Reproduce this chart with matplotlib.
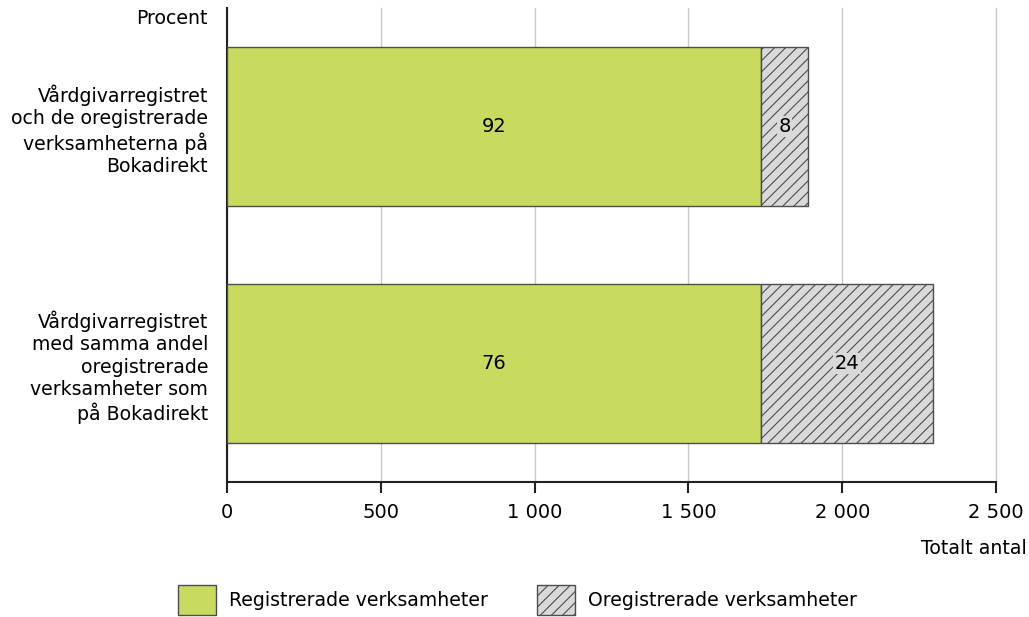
import matplotlib
matplotlib.use("Agg")
import matplotlib.pyplot as plt
from matplotlib.patches import Patch
from matplotlib.ticker import FuncFormatter

plt.rcParams['font.family'] = ['DejaVu Sans']
plt.rcParams['hatch.color'] = '#6a6a6a'
plt.rcParams['hatch.linewidth'] = 0.8

# antal verksamheter per register
categories = [
    "Vårdgivarregistret\noch de oregistrerade\nverksamheterna på\nBokadirekt",
    "Vårdgivarregistret\nmed samma andel\noregistrerade\nverksamheter som\npå Bokadirekt",
]
registrerade = [1736, 1736]
oregistrerade = [153, 559]
pct_reg = [92, 76]
pct_oreg = [8, 24]

green = "#C9DA5E"
grey = "#D9D9D9"
edge = "#4d4d4d"

fig = plt.figure(figsize=(10.29, 6.17), dpi=100)
ax = fig.add_axes([227 / 1029, 1 - 482 / 617, 769 / 1029, 474 / 617])

y = list(range(len(categories)))
ax.barh(y, registrerade, height=0.67, color=green, edgecolor=edge, linewidth=1, zorder=3)
ax.barh(y, oregistrerade, left=registrerade, height=0.67, color=grey,
        edgecolor=edge, linewidth=1, hatch="///", zorder=3)

for i in y:
    ax.text(registrerade[i] / 2, i, str(pct_reg[i]), ha="center", va="center",
            fontsize=14, zorder=4)
    ax.text(registrerade[i] + oregistrerade[i] / 2, i, str(pct_oreg[i]), ha="center",
            va="center", fontsize=14, zorder=4,
            bbox=dict(facecolor=grey, edgecolor="none", pad=1))

ax.set_xlim(0, 2500)
ax.set_ylim(1.5, -0.5)
ax.set_xticks([0, 500, 1000, 1500, 2000, 2500])
ax.xaxis.set_major_formatter(FuncFormatter(lambda v, p: f"{int(v):,}".replace(",", " ")))
ax.set_yticks(y)
ax.set_yticklabels(categories, fontsize=13.6, linespacing=1.22, ha="right")
ax.tick_params(axis="y", length=0, pad=13.5)
ax.tick_params(axis="x", length=8, width=1.5, labelsize=14, pad=7, color="#222222")

ax.grid(axis="x", color="#c8c8c8", linewidth=1, zorder=0)
for gl in ax.get_xgridlines():
    gl.set_clip_on(False)
for s in ["top", "right"]:
    ax.spines[s].set_visible(False)
ax.spines["left"].set_linewidth(1.5)
ax.spines["bottom"].set_linewidth(1.5)
ax.spines["left"].set_color("#222222")
ax.spines["bottom"].set_color("#222222")

fig.text(208 / 1029, 1 - 19 / 617, "Procent", ha="right", va="center", fontsize=13.6)
fig.text(1027 / 1029, 1 - 549 / 617, "Totalt antal", ha="right", va="center", fontsize=13.6)

handles = [
    Patch(facecolor=green, edgecolor=edge, label="Registrerade verksamheter"),
    Patch(facecolor=grey, edgecolor=edge, hatch="///", label="Oregistrerade verksamheter"),
]
fig.legend(handles=handles, loc="center", bbox_to_anchor=(0.503, 1 - 600 / 617), ncol=2,
           frameon=False, fontsize=13.6, handlelength=2.0, handleheight=2.0,
           columnspacing=2.6, handletextpad=0.7)

fig.savefig("out.png", dpi=100)
